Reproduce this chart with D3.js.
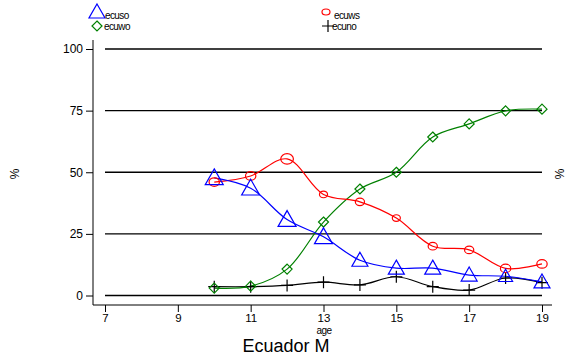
<!DOCTYPE html>
<html>
<head>
  <script src="https://d3js.org/d3.v7.min.js"></script>
  <style>
    body { margin: 0; background: #fff; }
    text { font-family: "Liberation Sans", Arial, sans-serif; }
  </style>
</head>
<body>
  <svg id="chart"></svg>
  <script>
    // Data
    const ages = [10, 11, 12, 13, 14, 15, 16, 17, 18, 19];
    const ecuso = [47.7, 43.5, 30.8, 23.8, 14.3, 11.1, 11.1, 8.3, 7.8, 5.5];
    const ecuws = [46, 48.5, 55.4, 41, 38, 31.4, 20, 18.5, 11, 12.8];
    const ecuwo = [3, 3.8, 10.7, 29.8, 43.2, 50, 64.3, 69.6, 74.9, 75.6];
    const ecuno = [3.6, 3.6, 4.1, 5.4, 4.3, 7.6, 3.6, 2.2, 7.1, 5.2];
    // marker sizes (weights) per point
    const wSo = [9, 9, 9, 9, 8, 8, 8, 8, 7, 8];
    const wWs = [4.5, 4.5, 5.5, 3.5, 4, 3.5, 4, 4, 4.5, 4.5];
    const xTicks = [7, 9, 11, 13, 15, 17, 19];
    const yTicks = [0, 25, 50, 75, 100];

    const W = 570, H = 358;
    const svg = d3.select("#chart").attr("width", W).attr("height", H);

    const x = d3.scaleLinear().domain([7, 19]).range([105, 542]);
    const y = d3.scaleLinear().domain([0, 100]).range([295.5, 49]);

    // gridlines
    svg.selectAll(".grid").data(yTicks).enter().append("line")
      .attr("x1", x(7)).attr("x2", x(19))
      .attr("y1", d => y(d)).attr("y2", d => y(d))
      .attr("stroke", "#000").attr("stroke-width", 1.3);

    // axes
    const yAxis = svg.append("g").attr("transform", "translate(93,0)")
      .call(d3.axisLeft(y).tickValues(yTicks).tickSize(7).tickPadding(3).tickSizeOuter(0));
    yAxis.select(".domain").attr("d", "M0,40V305");
    yAxis.selectAll("text").style("font-size", "12px").attr("fill", "#000");

    const xAxis = svg.append("g").attr("transform", "translate(0,305)")
      .call(d3.axisBottom(x).tickValues(xTicks).tickSize(7).tickPadding(2).tickSizeOuter(0));
    xAxis.select(".domain").attr("d", "M93,0H552");
    xAxis.selectAll("text").style("font-size", "11.5px").attr("fill", "#000");

    svg.append("text").attr("x", 324).attr("y", 334).attr("text-anchor", "middle")
      .style("font-size", "10px").style("letter-spacing", "-0.6px").text("age");
    svg.append("text").attr("x", 286).attr("y", 352).attr("text-anchor", "middle")
      .style("font-size", "18px").text("Ecuador M");
    svg.append("text").attr("transform", "translate(19,174) rotate(-90)").attr("text-anchor", "middle")
      .style("font-size", "12px").text("%");
    svg.append("text").attr("transform", "translate(564,174) rotate(-90)").attr("text-anchor", "middle")
      .style("font-size", "12px").text("%");

    const line = d3.line().curve(d3.curveCatmullRom.alpha(0.5))
      .x(d => x(d[0])).y(d => y(d[1]));

    function drawLine(vals, color) {
      svg.append("path").datum(ages.map((a, i) => [a, vals[i]]))
        .attr("d", line).attr("fill", "none").attr("stroke", color).attr("stroke-width", 1.2);
    }
    drawLine(ecuno, "#000");
    drawLine(ecuwo, "#008000");
    drawLine(ecuws, "#ff0000");
    drawLine(ecuso, "#0000ff");

    function tri(cx, cy, s) {
      return `M${cx},${cy - s}L${cx + s},${cy + s * 0.75}L${cx - s},${cy + s * 0.75}Z`;
    }
    function diamond(cx, cy, s) {
      return `M${cx},${cy - s}L${cx + s},${cy}L${cx},${cy + s}L${cx - s},${cy}Z`;
    }
    function plus(cx, cy, s) {
      return `M${cx - s},${cy}H${cx + s}M${cx},${cy - s}V${cy + s}`;
    }

    // markers
    svg.selectAll(".mno").data(ages).enter().append("path")
      .attr("d", (d, i) => plus(x(d), y(ecuno[i]), 6))
      .attr("stroke", "#000").attr("stroke-width", 1.2).attr("fill", "none");
    svg.selectAll(".mwo").data(ages).enter().append("path")
      .attr("d", (d, i) => diamond(x(d), y(ecuwo[i]), 5))
      .attr("stroke", "#008000").attr("stroke-width", 1.2).attr("fill", "none");
    svg.selectAll(".mws").data(ages).enter().append("ellipse")
      .attr("cx", d => x(d)).attr("cy", (d, i) => y(ecuws[i]))
      .attr("rx", (d, i) => wWs[i] * 1.15).attr("ry", (d, i) => wWs[i] * 0.95)
      .attr("stroke", "#ff0000").attr("stroke-width", 1.2).attr("fill", "none");
    svg.selectAll(".mso").data(ages).enter().append("path")
      .attr("d", (d, i) => tri(x(d), y(ecuso[i]), wSo[i]))
      .attr("stroke", "#0000ff").attr("stroke-width", 1.2).attr("fill", "none");

    // legend
    const lg = svg.append("g").style("font-size", "10px").style("letter-spacing", "-0.6px");
    lg.append("path").attr("d", tri(97, 12, 8)).attr("stroke", "#0000ff").attr("stroke-width", 1.2).attr("fill", "none");
    lg.append("text").attr("x", 105).attr("y", 19).text("ecuso");
    lg.append("path").attr("d", diamond(97, 26, 5)).attr("stroke", "#008000").attr("stroke-width", 1.2).attr("fill", "none");
    lg.append("text").attr("x", 104).attr("y", 30).text("ecuwo");
    lg.append("ellipse").attr("cx", 326).attr("cy", 12).attr("rx", 4).attr("ry", 3)
      .attr("stroke", "#ff0000").attr("stroke-width", 1.2).attr("fill", "none");
    lg.append("text").attr("x", 334).attr("y", 19).text("ecuws");
    lg.append("path").attr("d", plus(328, 26, 6)).attr("stroke", "#000").attr("stroke-width", 1.2).attr("fill", "none");
    lg.append("text").attr("x", 332).attr("y", 30).text("ecuno");
  </script>
</body>
</html>
